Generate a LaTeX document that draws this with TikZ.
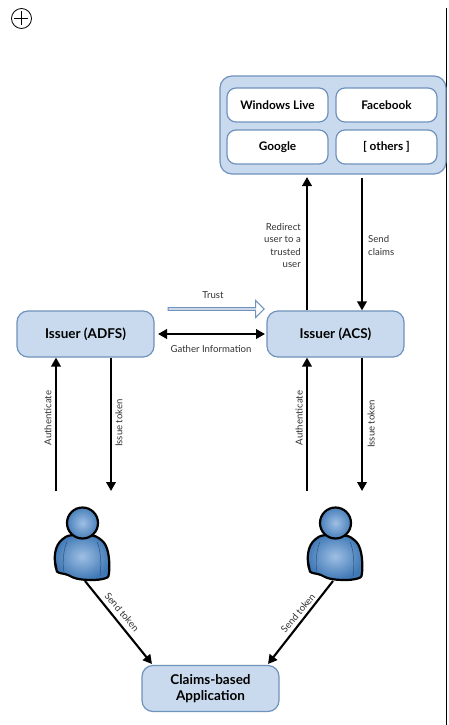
\documentclass[tikz,border=0pt]{standalone}
\usepackage{fontspec}
\setmainfont{Lato}
\usetikzlibrary{arrows.meta,shapes.arrows}
\definecolor{boxfill}{HTML}{C9DAEE}
\definecolor{boxline}{HTML}{6F93BD}
\definecolor{ptop}{HTML}{7FAADB}
\definecolor{pbot}{HTML}{3F78B5}
\definecolor{lbl}{HTML}{333333}
\tikzset{
  bluebox/.style={draw=boxline,line width=1.2pt,fill=boxfill,rounded corners=11pt,minimum width=137pt,minimum height=46pt,align=center,inner sep=0pt,font=\fontsize{13.5}{15.5}\selectfont\bfseries},
  whitebox/.style={draw=boxline,line width=1.2pt,fill=white,rounded corners=9pt,minimum width=101pt,minimum height=34pt,inner sep=0pt,font=\fontsize{11.8}{14}\selectfont\bfseries},
  outerbox/.style={draw=boxline,line width=1.2pt,fill=boxfill,rounded corners=12pt,minimum width=226pt,minimum height=98pt,inner sep=0pt},
  flow/.style={line width=2.1pt,-{Triangle[length=9pt,width=9.5pt]}},
  flowboth/.style={line width=2.1pt,{Triangle[length=9pt,width=9.5pt]}-{Triangle[length=9pt,width=9.5pt]}},
  lab/.style={font=\fontsize{9.6}{12.4}\selectfont,text=lbl,inner sep=0pt,align=center},
  person/.pic={
    \draw[line width=2.2pt,black,rounded corners=2pt,inner color=ptop!75!white,outer color=pbot]
      (-26,3) .. controls (-28,-8) and (-28,-20) .. (-18,-28)
      .. controls (-12,-32) and (10,-33) .. (18,-27)
      .. controls (26,-21) and (28,-8) .. (27,8)
      .. controls (26,12) and (22,13) .. (14,14)
      .. controls (6,14) and (-4,14) .. (-12,10)
      .. controls (-18,7) and (-24,8) .. (-26,3) -- cycle;
    \draw[line width=.5pt,pbot!70!black] (-18,7) .. controls (-20,-5) and (-18,-18) .. (-15,-24);
    \draw[line width=.5pt,pbot!70!black] (18,10) .. controls (20,-5) and (18,-18) .. (15,-24);
    \shade[draw=black,line width=2.2pt,inner color=ptop!75!white,outer color=pbot!85!ptop] (0.5,-43) circle (15.5pt);
  }
}
\begin{document}
\begin{tikzpicture}[x=1pt,y=-1pt]
\useasboundingbox (0,0) rectangle (449,725);
\fill[white] (0,0) rectangle (449,725);
% frame line and plus icon
\coordinate (railtop) at (446,8);
\coordinate (railbot) at (446,725);
\draw[line width=1pt] (railtop) -- (railbot);
\node[draw,circle,line width=.8pt,minimum size=20pt,inner sep=0pt] (plus) at (21.5,18.5) {};
\draw[line width=.8pt] (plus.west) ++(3,0) -- ++(14,0);
\draw[line width=.8pt] (plus.north) ++(0,3) -- ++(0,14);
% top group
\node[outerbox] (group) at (333,125) {};
\node[whitebox] (wl) at (277.5,105) {Windows Live};
\node[whitebox] (fb) at (386.5,105) {Facebook};
\node[whitebox] (go) at (277.5,147) {Google};
\node[whitebox] (ot) at (386.5,147) {[ others ]};
% issuers
\node[bluebox] (adfs) at (85.5,334) {Issuer (ADFS)};
\node[bluebox] (acs) at (335.5,334) {Issuer (ACS)};
\node[bluebox] (app) at (210.5,688.5) {Claims-based\\Application};
% persons
\pic at (82,566) {person};
\pic at (335,566) {person};
\coordinate (pl) at (85,581);
\coordinate (pr) at (333,581);
\coordinate (a1) at (56,491);
\coordinate (a2) at (111,491);
\coordinate (a3) at (307,491);
\coordinate (a4) at (362,491);
\coordinate (c1) at (307,177);
\coordinate (c2) at (362,178);
% arrows
\draw[flow] (a1) -- (a1 |- adfs.south);
\draw[flow] (a2 |- adfs.south) -- (a2);
\draw[flow] (a3) -- (a3 |- acs.south);
\draw[flow] (a4 |- acs.south) -- (a4);
\draw[flow] (c1 |- acs.north) -- (c1);
\draw[flow] (c2) -- (c2 |- acs.north);
\draw[flowboth] (158,334) -- (265,334);
\draw[flow] (pl) -- (152,664);
\draw[flow] (pr) -- (268,664);
% trust arrow
\node[draw=boxline,line width=1.2pt,fill=white,single arrow,single arrow head extend=3.5pt,single arrow tip angle=90,minimum height=96pt,minimum width=17pt,inner sep=0pt,shape border rotate=0] (trust) at (215.5,309) {};
% labels
\node[lab] (t1) at (213,295.5) {Trust};
\node[lab] (t2) at (211,349) {Gather Information};
\node[lab,align=right,anchor=east] (t3) at (301,245.5) {Redirect\\user to a\\trusted\\user};
\node[lab,align=left,anchor=west] (t4) at (368,245.5) {Send\\claims};
\node[lab,rotate=90] (t5) at (48,418) {Authenticate};
\node[lab,rotate=90] (t6) at (119,423) {Issue token};
\node[lab,rotate=90] (t7) at (299,418) {Authenticate};
\node[lab,rotate=90] (t8) at (371,424) {Issue token};
\node[lab,rotate=-50] (t9) at (122,612) {Send token};
\node[lab,rotate=50] (t10) at (298,613) {Send token};
\end{tikzpicture}
\end{document}
